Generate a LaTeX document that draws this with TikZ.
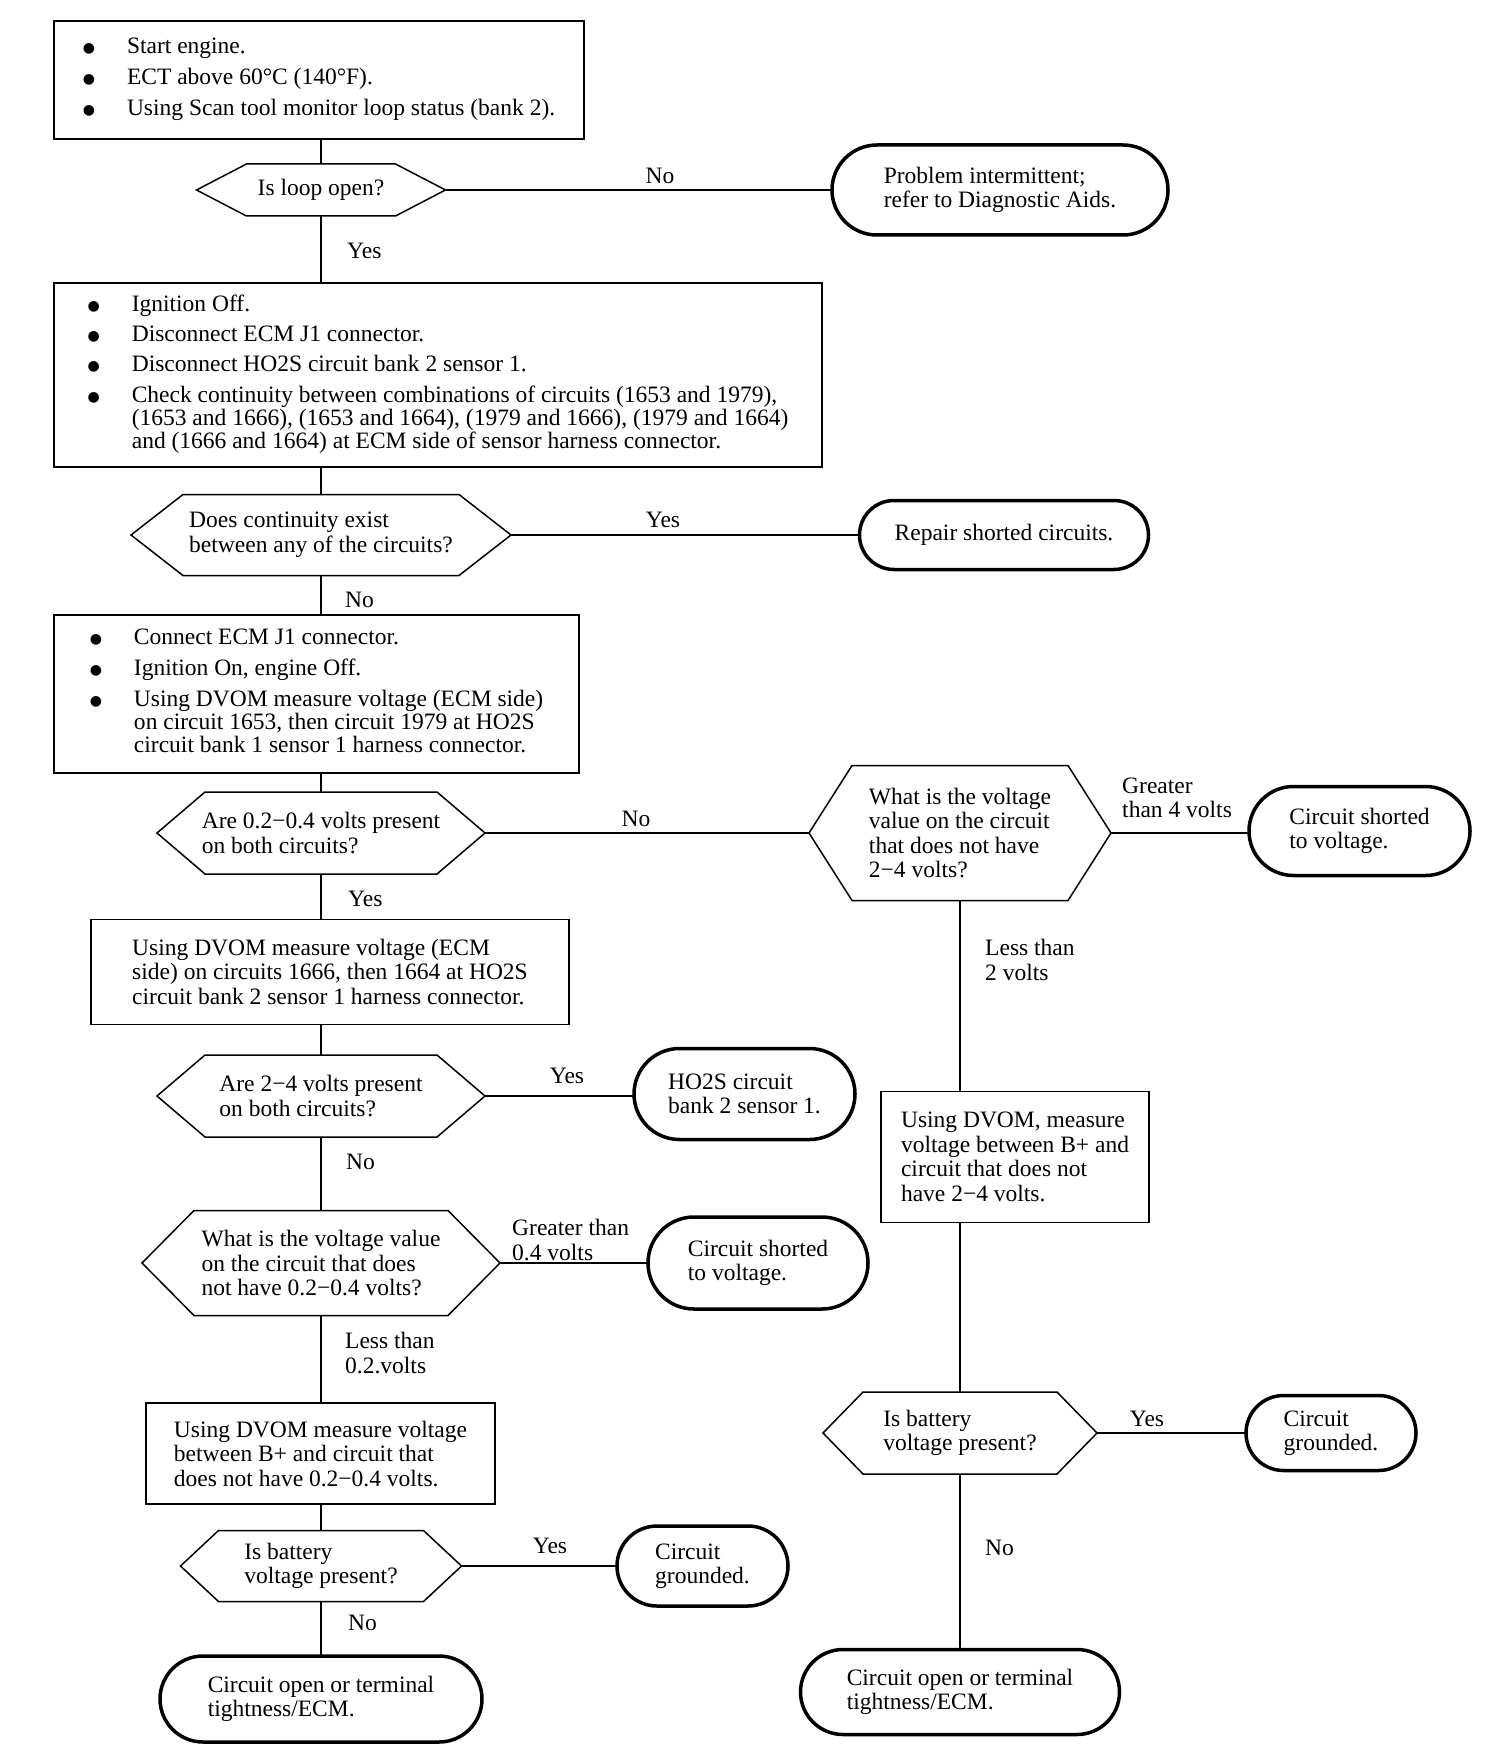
\documentclass[tikz,border=0pt]{standalone}
\usepackage{fontspec}
\setmainfont{Liberation Serif}
\newfontfamily\symfont{DejaVu Sans}
\usetikzlibrary{shapes.misc}
\newcommand\fs{\fontsize{23.5}{24.5}\selectfont}
\newcommand\fb{\fontsize{23.5}{22.5}\selectfont}
\newcommand\hexdraw[2]{\draw[hexline] (#1.west) -- ([xshift=#2pt]#1.north west) -- ([xshift=-#2pt]#1.north east) -- (#1.east) -- ([xshift=-#2pt]#1.south east) -- ([xshift=#2pt]#1.south west) -- cycle;}
\newcommand\bul{\raisebox{1pt}{\symfont\fontsize{14}{14}\selectfont ●}}
\begin{document}
\begin{tikzpicture}[x=1pt,y=-1pt,
  box/.style={draw, rectangle, line width=1.6pt, outer sep=0pt, inner sep=0pt, font=\fs, align=left},
  bbox/.style={box, font=\fb},
  hexnode/.style={rectangle, outer sep=0pt, inner sep=0pt, font=\fs, align=left},
  term/.style={draw, rounded rectangle, line width=3.5pt, outer sep=0pt, inner sep=0pt, font=\fs, align=left},
  lbl/.style={font=\fs, align=left, inner sep=0pt},
  conn/.style={line width=1.5pt},
  hexline/.style={line width=1.5pt, line join=miter}]
\useasboundingbox[fill=white] (0,0) rectangle (1504,1760);

% ---------- top ----------
\node[bbox, minimum width=530, minimum height=118] (b1) at (319,80) {%
\begin{tabular}{@{}l@{\hspace{32pt}}l@{}}
\bul & Start engine.\\[7.5pt]
\bul & ECT above 60°C (140°F).\\[7.5pt]
\bul & Using Scan tool monitor loop status (bank 2).
\end{tabular}};

\node[hexnode, minimum width=249, minimum height=52] (h1) at (321,190) {Is loop open?};
\hexdraw{h1}{50}
\node[term, minimum width=336, minimum height=90] (t1) at (1000,190) {Problem intermittent;\\refer to Diagnostic Aids.};

\node[bbox, minimum width=768, minimum height=184] (b2) at (438,375) {%
\begin{tabular}{@{}l@{\hspace{32pt}}l@{}}
\bul & Ignition Off.\\[7.5pt]
\bul & Disconnect ECM J1 connector.\\[7.5pt]
\bul & Disconnect HO2S circuit bank 2 sensor 1.\\[7.5pt]
\bul & Check continuity between combinations of circuits (1653 and 1979),\\
 & (1653 and 1666), (1653 and 1664), (1979 and 1666), (1979 and 1664)\\
 & and (1666 and 1664) at ECM side of sensor harness connector.
\end{tabular}};

\node[hexnode, minimum width=380, minimum height=81] (h2) at (321,535) {Does continuity exist\\between any of the circuits?};
\hexdraw{h2}{52}
\node[term, minimum width=289, minimum height=69] (t2) at (1004,535) {Repair shorted circuits.};

\node[bbox, minimum width=525, minimum height=158] (b3) at (316.5,694) {%
\begin{tabular}{@{}l@{\hspace{32pt}}l@{}}
\bul & Connect ECM J1 connector.\\[7.5pt]
\bul & Ignition On, engine Off.\\[7.5pt]
\bul & Using DVOM measure voltage (ECM side)\\
 & on circuit 1653, then circuit 1979 at HO2S\\
 & circuit bank 1 sensor 1 harness connector.
\end{tabular}};

\node[hexnode, minimum width=328, minimum height=82] (h3) at (321,833) {Are 0.2−0.4 volts present\\on both circuits?};
\hexdraw{h3}{48}

% ---------- right column ----------
\node[hexnode, minimum width=302, minimum height=135] (h4) at (960,833) {What is the voltage\\value on the circuit\\that does not have\\2−4 volts?};
\hexdraw{h4}{43}
\node[term, minimum width=221, minimum height=89] (t3) at (1359.5,831) {Circuit shorted\\to voltage.};
\node[box, minimum width=268, minimum height=131] (bR) at (1015,1157) {Using DVOM, measure\\voltage between B+ and\\circuit that does not\\have 2−4 volts.};
\node[hexnode, minimum width=274, minimum height=82] (h8) at (960,1433) {Is battery\\voltage present?};
\hexdraw{h8}{40}
\node[term, minimum width=170, minimum height=75] (t8) at (1331,1433) {Circuit\\grounded.};
\node[term, minimum width=319, minimum height=85] (t9) at (960,1692) {Circuit open or terminal\\tightness/ECM.};

% ---------- left column ----------
\node[box, minimum width=478, minimum height=105] (b4) at (330,972) {Using DVOM measure voltage (ECM\\side) on circuits 1666, then 1664 at HO2S\\circuit bank 2 sensor 1 harness connector.};
\node[hexnode, minimum width=328, minimum height=82] (h5) at (321,1096) {Are 2−4 volts present\\on both circuits?};
\hexdraw{h5}{48}
\node[term, minimum width=221, minimum height=91] (t4) at (744.5,1094) {HO2S circuit\\bank 2 sensor 1.};
\node[hexnode, minimum width=358, minimum height=105] (h6) at (321,1263) {What is the voltage value\\on the circuit that does\\not have 0.2−0.4 volts?};
\hexdraw{h6}{52}
\node[term, minimum width=220, minimum height=92] (t5) at (758,1263) {Circuit shorted\\to voltage.};
\node[box, minimum width=349, minimum height=101] (b5) at (320.5,1453.5) {Using DVOM measure voltage\\between B+ and circuit that\\does not have 0.2−0.4 volts.};
\node[hexnode, minimum width=281, minimum height=71] (h7) at (321,1566) {Is battery\\voltage present?};
\hexdraw{h7}{38}
\node[term, minimum width=171, minimum height=80] (t6) at (702.5,1566) {Circuit\\grounded.};
\node[term, minimum width=322, minimum height=86] (t7) at (321,1699) {Circuit open or terminal\\tightness/ECM.};

% ---------- connectors ----------
\draw[conn] (b1.south -| h1.north) -- (h1.north);
\draw[conn] (h1.east) -- (t1.west |- h1.east);
\draw[conn] (h1.south) -- (h1.south |- b2.north);
\draw[conn] (b2.south -| h2.north) -- (h2.north);
\draw[conn] (h2.east) -- (t2.west |- h2.east);
\draw[conn] (h2.south) -- (h2.south |- b3.north);
\draw[conn] (b3.south -| h3.north) -- (h3.north);
\draw[conn] (h3.east) -- (h4.west);
\draw[conn] (h4.east) -- (t3.west |- h4.east);
\draw[conn] (h4.south) -- (h4.south |- bR.north);
\draw[conn] (bR.south -| h8.north) -- (h8.north);
\draw[conn] (h8.east) -- (t8.west |- h8.east);
\draw[conn] (h8.south) -- (t9.north);
\draw[conn] (h3.south) -- (h3.south |- b4.north);
\draw[conn] (b4.south -| h5.north) -- (h5.north);
\draw[conn] (h5.east) -- (t4.west |- h5.east);
\draw[conn] (h5.south) -- (h6.north);
\draw[conn] (h6.east) -- (t5.west |- h6.east);
\draw[conn] (h6.south) -- (h6.south |- b5.north);
\draw[conn] (b5.south -| h7.north) -- (h7.north);
\draw[conn] (h7.east) -- (t6.west |- h7.east);
\draw[conn] (h7.south) -- (t7.north);

% ---------- labels ----------
\node[lbl] (l1) at (660,176) {No};
\node[lbl, anchor=west] (l2) at (347,251) {Yes};
\node[lbl] (l3) at (663,520) {Yes};
\node[lbl, anchor=west] (l4) at (345,600) {No};
\node[lbl] (l5) at (636,819) {No};
\node[lbl, anchor=west] (l6) at (1122,798) {Greater\\than 4 volts};
\node[lbl, anchor=west] (l7) at (985,960) {Less than\\2 volts};
\node[lbl] (l8) at (1147,1419) {Yes};
\node[lbl, anchor=west] (l9) at (985,1548) {No};
\node[lbl, anchor=west] (l10) at (348,899) {Yes};
\node[lbl] (l11) at (567,1076) {Yes};
\node[lbl, anchor=west] (l12) at (346,1162) {No};
\node[lbl, anchor=west] (l13) at (512,1240) {Greater than\\0.4 volts};
\node[lbl, anchor=west] (l14) at (345,1353) {Less than\\0.2.volts};
\node[lbl] (l15) at (550,1546) {Yes};
\node[lbl, anchor=west] (l16) at (348,1623) {No};
\end{tikzpicture}
\end{document}
